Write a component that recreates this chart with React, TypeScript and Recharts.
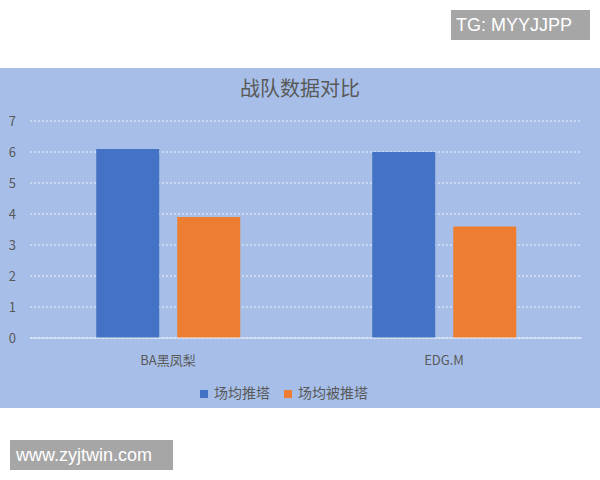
import React from "react";
import { BarChart, Bar, XAxis, YAxis, CartesianGrid, Legend } from "recharts";

const categories = ["BA黑凤梨", "EDG.M"];
const pushTowers = [6.1, 6.0];
const pushedTowers = [3.9, 3.6];
const yTicks = [0, 1, 2, 3, 4, 5, 6, 7];
const seriesNames = ["场均推塔", "场均被推塔"];

const data = categories.map((c, i) => ({
  name: c,
  a: pushTowers[i],
  b: pushedTowers[i],
}));

const FONT = '"Noto Sans CJK SC", "Noto Sans", sans-serif';

export default function App() {
  return (
    <div
      style={{
        position: "absolute",
        left: 0,
        top: 0,
        width: 600,
        height: 480,
        background: "#ffffff",
        fontFamily: FONT,
        overflow: "hidden",
      }}
    >
      <div
        style={{
          position: "absolute",
          left: 451,
          top: 10,
          width: 139,
          height: 30,
          background: "#a6a6a6",
          color: "#ffffff",
          fontFamily: '"Liberation Sans", Arial, sans-serif',
          fontSize: 18,
          lineHeight: "30px",
          paddingLeft: 5,
          boxSizing: "border-box",
        }}
      >
        TG: MYYJJPP
      </div>
      <div
        style={{
          position: "absolute",
          left: 0,
          top: 68,
          width: 600,
          height: 340,
          background: "#a7bfe8",
        }}
      >
        <div
          style={{
            position: "absolute",
            left: 0,
            top: 5,
            width: 600,
            textAlign: "center",
            fontSize: 20,
            color: "#595959",
            fontFamily: FONT,
          }}
        >
          战队数据对比
        </div>
        <BarChart
          width={600}
          height={340}
          data={data}
          margin={{ top: 53, right: 18, bottom: 20, left: 0 }}
          barCategoryGap="24%"
          barGap={18}
        >
          <CartesianGrid
            vertical={false}
            stroke="#ffffff"
            strokeDasharray="2 2"
            strokeOpacity={0.8}
          />
          <XAxis
            dataKey="name"
            axisLine={{ stroke: "#e6ecf7" }}
            tickLine={false}
            tickMargin={12}
            tick={{ fill: "#595959", fontSize: 13, fontFamily: FONT }}
          />
          <YAxis
            width={30}
            domain={[0, 7]}
            ticks={yTicks}
            axisLine={false}
            tickLine={false}
            tickMargin={8}
            tick={{ fill: "#595959", fontSize: 13, fontFamily: FONT }}
          />
          <Legend
            verticalAlign="bottom"
            align="center"
            iconType="square"
            iconSize={8}
            wrapperStyle={{ bottom: 6, fontSize: 14, fontFamily: FONT }}
            formatter={(v) => (
              <span style={{ color: "#595959", padding: "0 4px 0 2px" }}>{v}</span>
            )}
          />
          <Bar dataKey="a" name={seriesNames[0]} fill="#4472c4" isAnimationActive={false} />
          <Bar dataKey="b" name={seriesNames[1]} fill="#ed7d31" isAnimationActive={false} />
        </BarChart>
      </div>
      <div
        style={{
          position: "absolute",
          left: 10,
          top: 440,
          width: 163,
          height: 30,
          background: "#a6a6a6",
          color: "#ffffff",
          fontFamily: '"Liberation Sans", Arial, sans-serif',
          fontSize: 18,
          lineHeight: "30px",
          paddingLeft: 6,
          boxSizing: "border-box",
        }}
      >
        www.zyjtwin.com
      </div>
    </div>
  );
}
